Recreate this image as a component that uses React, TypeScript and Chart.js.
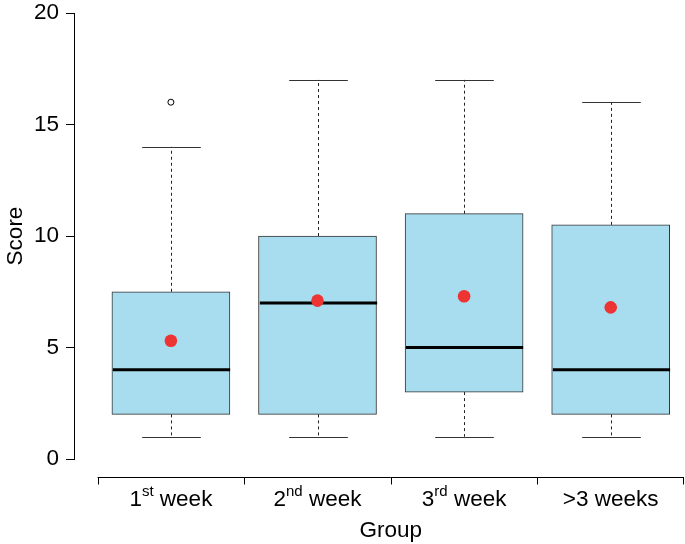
import React, { useEffect, useRef } from "react";
import { Chart, registerables } from "chart.js";

Chart.register(...registerables);

const categories = ["1st week", "2nd week", "3rd week", ">3 weeks"];
const labelMain = ["1", "2", "3", ">3 weeks"];
const labelSup = ["st", "nd", "rd", ""];
const labelTail = [" week", " week", " week", ""];
const whiskerLow = [1, 1, 1, 1];
const q1 = [2, 2, 3, 2];
const medians = [4, 7, 5, 4];
const q3 = [7.5, 10, 11, 10.5];
const whiskerHigh = [14, 17, 17, 16];
const means = [5.3, 7.1, 7.3, 6.8];
const outlierGroup = [0];
const outlierValue = [16];
const yTicks = [0, 5, 10, 15, 20];

const FONT = "'Liberation Sans', Arial, Helvetica, sans-serif";
const FS = 22.5;

const boxPlugin = {
  id: "boxParts",
  afterDatasetDraw(chart: any, args: any) {
    if (args.index !== 0) return;
    const ctx = chart.ctx;
    const xs = chart.scales.x;
    const ys = chart.scales.y;
    const half = (xs.getPixelForValue(1) - xs.getPixelForValue(0)) * 0.2;
    ctx.save();
    categories.forEach((_, i) => {
      const cx = Math.round(xs.getPixelForValue(i)) + 0.5;
      ctx.strokeStyle = "#222";
      ctx.lineWidth = 1;
      ctx.setLineDash([3, 3]);
      ctx.beginPath();
      ctx.moveTo(cx, ys.getPixelForValue(q3[i]));
      ctx.lineTo(cx, ys.getPixelForValue(whiskerHigh[i]));
      ctx.moveTo(cx, ys.getPixelForValue(q1[i]));
      ctx.lineTo(cx, ys.getPixelForValue(whiskerLow[i]));
      ctx.stroke();
      ctx.setLineDash([]);
      ctx.strokeStyle = "#333";
      ctx.beginPath();
      const yh = Math.round(ys.getPixelForValue(whiskerHigh[i])) + 0.5;
      const yl = Math.round(ys.getPixelForValue(whiskerLow[i])) + 0.5;
      ctx.moveTo(cx - half, yh);
      ctx.lineTo(cx + half, yh);
      ctx.moveTo(cx - half, yl);
      ctx.lineTo(cx + half, yl);
      ctx.stroke();
      ctx.strokeStyle = "#000";
      ctx.lineWidth = 3;
      ctx.beginPath();
      const ym = ys.getPixelForValue(medians[i]);
      ctx.moveTo(cx - 2 * half, ym);
      ctx.lineTo(cx + 2 * half, ym);
      ctx.stroke();
    });
    ctx.restore();
  },
  afterDraw(chart: any) {
    const ctx = chart.ctx;
    const xs = chart.scales.x;
    const axisY = Math.round(chart.chartArea.bottom + 18) + 0.5;
    ctx.save();
    ctx.strokeStyle = "#000";
    ctx.lineWidth = 1;
    ctx.beginPath();
    const x0 = xs.getPixelForValue(-0.5);
    const x1 = xs.getPixelForValue(categories.length - 0.5);
    ctx.moveTo(x0, axisY);
    ctx.lineTo(x1, axisY);
    for (let k = 0; k <= categories.length; k++) {
      const tx = Math.min(Math.round(xs.getPixelForValue(k - 0.5)) + 0.5, x1 - 0.5);
      ctx.moveTo(tx, axisY);
      ctx.lineTo(tx, axisY + 7);
    }
    ctx.stroke();
    ctx.fillStyle = "#000";
    ctx.textBaseline = "alphabetic";
    ctx.textAlign = "left";
    const mainFont = `${FS}px ${FONT}`;
    const supFont = `15px ${FONT}`;
    categories.forEach((_, i) => {
      const cx = xs.getPixelForValue(i);
      ctx.font = mainFont;
      const wMain = ctx.measureText(labelMain[i]).width;
      const wTail = ctx.measureText(labelTail[i]).width;
      ctx.font = supFont;
      const wSup = ctx.measureText(labelSup[i]).width;
      const total = wMain + wSup + wTail;
      let x = cx - total / 2;
      const base = axisY + 28;
      ctx.font = mainFont;
      ctx.fillText(labelMain[i], x, base);
      x += wMain;
      ctx.font = supFont;
      ctx.fillText(labelSup[i], x, base - 10);
      x += wSup;
      ctx.font = mainFont;
      ctx.fillText(labelTail[i], x, base);
    });
    ctx.font = mainFont;
    ctx.textAlign = "center";
    ctx.textBaseline = "middle";
    ctx.fillText("Group", (x0 + x1) / 2, axisY + 53);
    ctx.restore();
  },
};

export default function App() {
  const ref = useRef<HTMLCanvasElement | null>(null);
  useEffect(() => {
    if (!ref.current) return;
    const chart = new Chart(ref.current, {
      type: "bar",
      data: {
        datasets: [
          {
            type: "bar",
            data: categories.map((_, i) => ({ x: i, y: [q1[i], q3[i]] })) as any,
            backgroundColor: "#A8DDEF",
            borderColor: "#333333",
            borderWidth: 1,
            borderSkipped: false,
            barThickness: 118,
            order: 3,
          } as any,
          {
            type: "scatter",
            data: categories.map((_, i) => ({ x: i, y: means[i] })),
            backgroundColor: "#EE3333",
            borderColor: "#EE3333",
            borderWidth: 0,
            pointRadius: 6.3,
            order: 1,
          } as any,
          {
            type: "scatter",
            data: outlierGroup.map((g, k) => ({ x: g, y: outlierValue[k] })),
            backgroundColor: "rgba(0,0,0,0)",
            borderColor: "#000",
            borderWidth: 1,
            pointRadius: 3,
            order: 0,
          } as any,
        ],
      },
      options: {
        animation: false,
        responsive: false,
        devicePixelRatio: 1,
        layout: { autoPadding: false, padding: { top: 13, bottom: 85, left: 0, right: 1 } },
        plugins: { legend: { display: false }, tooltip: { enabled: false } },
        scales: {
          x: {
            type: "linear",
            display: false,
            offset: false,
            min: -0.661,
            max: 3.5,
          },
          y: {
            min: 0,
            max: 20,
            afterFit(scale: any) {
              scale.width = 74;
              scale.paddingTop = 0;
              scale.paddingBottom = 0;
            },
            afterBuildTicks(scale: any) {
              scale.ticks = yTicks.map((v) => ({ value: v }));
            },
            ticks: {
              color: "#000",
              font: { size: FS, family: FONT },
              padding: 7,
            },
            grid: {
              display: true,
              drawOnChartArea: false,
              drawTicks: true,
              tickLength: 8,
              color: "#000",
            },
            border: { display: true, color: "#000" },
            title: {
              display: true,
              text: "Score",
              color: "#000",
              font: { size: FS, family: FONT },
              padding: { top: 2, bottom: 0 },
            },
          },
        },
      },
      plugins: [boxPlugin],
    } as any);
    return () => chart.destroy();
  }, []);
  return (
    <div style={{ position: "fixed", left: 0, top: 0, width: 685, height: 544, background: "#fff" }}>
      <canvas ref={ref} width={685} height={544} style={{ display: "block" }} />
    </div>
  );
}
